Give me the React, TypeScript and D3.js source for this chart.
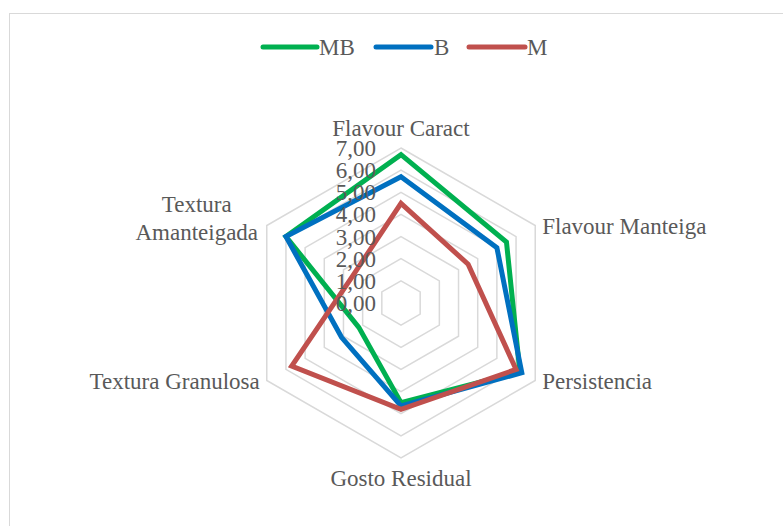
import React from "react";
import * as d3 from "d3";

const categories = ["Flavour Caract", "Flavour Manteiga", "Persistencia", "Gosto Residual", "Textura Granulosa", "Textura Amanteigada"];
const seriesNames = ["MB", "B", "M"];
const valuesMB = [6.7, 5.5, 6.2, 4.5, 2.2, 6.0];
const valuesB = [5.7, 5.0, 6.3, 4.65, 3.1, 6.0];
const valuesM = [4.5, 3.5, 6.0, 4.8, 5.7, 2.5];
const ticks = [0, 1, 2, 3, 4, 5, 6, 7];
const colors = ["#00b050", "#0070c0", "#c0504d"];

export default function App() {
  const W = 783, H = 526;
  const cx = 401, cy = 303, R = 155;
  const r = d3.scaleLinear().domain([0, 7]).range([0, R]);
  const n = categories.length;
  const ang = (i: number) => (i * 2 * Math.PI) / n;
  const pt = (i: number, v: number): [number, number] => [cx + r(v) * Math.sin(ang(i)), cy - r(v) * Math.cos(ang(i))];
  const radial = d3.lineRadial<number>().angle((_, i) => ang(i)).radius((d) => r(d)).curve(d3.curveLinearClosed);
  const all = [valuesMB, valuesB, valuesM];
  const fmt = (v: number) => v.toFixed(2).replace(".", ",");
  const font = "'Liberation Serif', 'Times New Roman', serif";
  const txt = "#595959";
  const fs = 23;
  const legendItems = [
    { x1: 263, x2: 317, tx: 319 },
    { x1: 376, x2: 431, tx: 434 },
    { x1: 469, x2: 525, tx: 527 },
  ];
  return (
    <svg width={W} height={H} style={{ position: "absolute", left: 0, top: 0, background: "#fff" }} fontFamily={font}>
      <rect x={9.5} y={13.5} width={790} height={530} fill="#fff" stroke="#d9d9d9" strokeWidth={1} />
      {ticks.slice(1).map((t) => (
        <path key={t} d={radial(categories.map(() => t)) || ""} transform={`translate(${cx},${cy})`} fill="none" stroke="#d9d9d9" strokeWidth={1.5} />
      ))}
      {all.map((vals, k) => (
        <path key={k} d={radial(vals) || ""} transform={`translate(${cx},${cy})`} fill="none" stroke={colors[k]} strokeWidth={5} strokeLinejoin="miter" />
      ))}
      {ticks.map((t) => (
        <text key={t} x={376} y={cy - r(t)} dy="0.35em" textAnchor="end" fontSize={fs} fill={txt}>{fmt(t)}</text>
      ))}
      <text x={pt(0, 7)[0]} y={pt(0, 7)[1] - 12} textAnchor="middle" fontSize={fs} fill={txt}>{categories[0]}</text>
      <text x={pt(1, 7)[0] + 7} y={pt(1, 7)[1]} dy="0.35em" textAnchor="start" fontSize={fs} fill={txt}>{categories[1]}</text>
      <text x={pt(2, 7)[0] + 7} y={pt(2, 7)[1]} dy="0.35em" textAnchor="start" fontSize={fs} fill={txt}>{categories[2]}</text>
      <text x={pt(3, 7)[0]} y={pt(3, 7)[1] + 20} dy="0.35em" textAnchor="middle" fontSize={fs} fill={txt}>{categories[3]}</text>
      <text x={pt(4, 7)[0] - 7} y={pt(4, 7)[1]} dy="0.35em" textAnchor="end" fontSize={fs} fill={txt}>{categories[4]}</text>
      <text y={pt(5, 7)[1] - 14} dy="0.35em" textAnchor="middle" fontSize={fs} fill={txt}>
        <tspan x={pt(5, 7)[0] - 70} dy="0">Textura</tspan>
        <tspan x={pt(5, 7)[0] - 70} dy="28">Amanteigada</tspan>
      </text>
      {seriesNames.map((s, k) => (
        <g key={s}>
          <line x1={legendItems[k].x1} x2={legendItems[k].x2} y1={47} y2={47} stroke={colors[k]} strokeWidth={5} strokeLinecap="round" />
          <text x={legendItems[k].tx} y={47} dy="0.35em" fontSize={fs} fill={txt}>{s}</text>
        </g>
      ))}
    </svg>
  );
}
